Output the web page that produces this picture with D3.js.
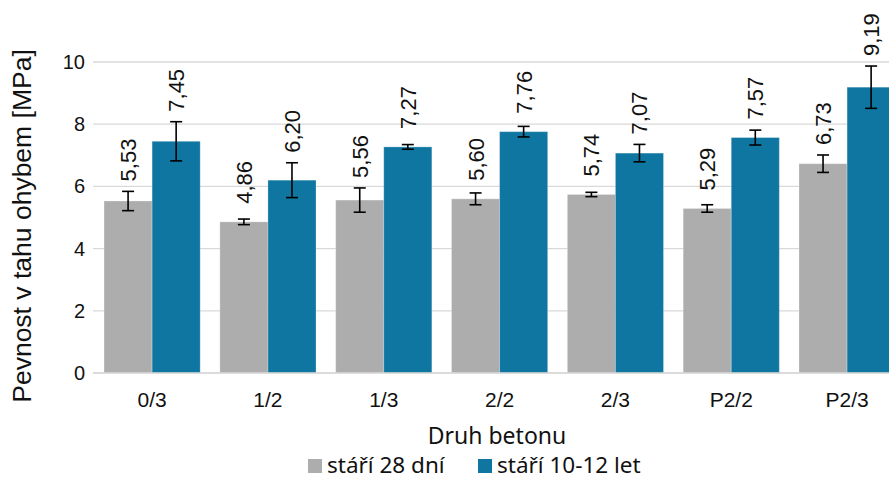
<!DOCTYPE html>
<html><head><meta charset="utf-8">
<script src="https://cdn.jsdelivr.net/npm/d3@7"></script>
<style>
html,body{margin:0;padding:0;background:#fff;}
svg{display:block;}
</style></head>
<body>
<svg id="chart" width="889" height="480"></svg>
<script>
const categories = ["0/3","1/2","1/3","2/2","2/3","P2/2","P2/3"];
const seriesNames = ["stáří 28 dní","stáří 10-12 let"];
const values28 = [5.53,4.86,5.56,5.60,5.74,5.29,6.73];
const values10 = [7.45,6.20,7.27,7.76,7.07,7.57,9.19];
const err28 = [0.31,0.09,0.39,0.19,0.07,0.12,0.28];
const err10 = [0.63,0.56,0.075,0.17,0.28,0.24,0.68];
const yTicks = [0,2,4,6,8,10];
const colors = ["#adadad","#0e76a0"];

const svg = d3.select("#chart");
const W = 889, H = 480;
const FONT = "Liberation Sans, Arial, sans-serif";
const FONT2 = "Noto Sans, sans-serif";
const y = d3.scaleLinear().domain([0,10]).range([373,62]);
const x = d3.scaleBand().domain(categories).range([94.2,905]).paddingInner(0.17).paddingOuter(0.085);
const xs = d3.scaleBand().domain([0,1]).range([0,x.bandwidth()]).padding(0);

// gridlines
svg.append("g").selectAll("line").data(yTicks).join("line")
  .attr("x1",93).attr("x2",W).attr("y1",d=>y(d)).attr("y2",d=>y(d))
  .attr("stroke","#d9d9d9").attr("stroke-width",1.3);

// y tick labels
const yAxis = d3.axisLeft(y).tickValues(yTicks).tickSize(0).tickPadding(0).tickFormat(d3.format("d"));
const ga = svg.append("g").attr("transform","translate(85,0)").call(yAxis);
ga.select(".domain").remove();
ga.selectAll("text").attr("font-family",FONT).attr("font-size",20).attr("fill","#111");

const rows = categories.map((c,i)=>({c, v:[values28[i],values10[i]], e:[err28[i],err10[i]]}));
const flat = [];
rows.forEach(r=>r.v.forEach((v,s)=>flat.push({c:r.c,s,v,e:r.e[s]})));

// bars
svg.append("g").selectAll("rect").data(flat).join("rect")
  .attr("x",d=>x(d.c)+xs(d.s)).attr("width",xs.bandwidth())
  .attr("y",d=>y(d.v)).attr("height",d=>y(0)-y(d.v))
  .attr("fill",d=>colors[d.s])
  .attr("stroke","#ffffff").attr("stroke-opacity",0.25).attr("stroke-width",1);

// baseline
svg.append("line").attr("x1",93).attr("x2",W).attr("y1",y(0)).attr("y2",y(0))
  .attr("stroke","#d9d9d9").attr("stroke-width",1.3);

// error bars
const cx = d=>x(d.c)+xs(d.s)+xs.bandwidth()/2;
const eg = svg.append("g").attr("stroke","#000").attr("stroke-width",1.6);
eg.selectAll(".v").data(flat).join("line").attr("class","v")
  .attr("x1",cx).attr("x2",cx).attr("y1",d=>y(d.v+d.e)).attr("y2",d=>y(d.v-d.e));
eg.selectAll(".t").data(flat).join("line").attr("class","t")
  .attr("x1",d=>cx(d)-6).attr("x2",d=>cx(d)+6).attr("y1",d=>y(d.v+d.e)).attr("y2",d=>y(d.v+d.e));
eg.selectAll(".b").data(flat).join("line").attr("class","b")
  .attr("x1",d=>cx(d)-6).attr("x2",d=>cx(d)+6).attr("y1",d=>y(d.v-d.e)).attr("y2",d=>y(d.v-d.e));

// data labels
const fmt = v=>d3.format(".2f")(v).replace(".",",");
svg.append("g").selectAll("text").data(flat).join("text")
  .attr("transform",d=>{
    const yy = Math.min(y(d.v)-18, y(d.v+d.e)-10);
    return `translate(${cx(d)+8},${yy}) rotate(-90)`;
  })
  .attr("text-anchor","start")
  .attr("font-family",FONT).attr("font-size",22).attr("fill","#111")
  .text(d=>fmt(d.v));

// category labels
svg.append("g").selectAll("text").data(categories).join("text")
  .attr("x",d=>x(d)+x.bandwidth()/2).attr("y",407)
  .attr("text-anchor","middle")
  .attr("font-family",FONT).attr("font-size",21).attr("fill","#111")
  .text(d=>d);

// x title
svg.append("text").attr("x",497).attr("y",444).attr("text-anchor","middle")
  .attr("font-family",FONT2).attr("font-size",23).attr("fill","#111")
  .text("Druh betonu");

// y title
svg.append("text").attr("transform","translate(31,226) rotate(-90)").attr("text-anchor","middle")
  .attr("font-family",FONT).attr("font-size",26.5).attr("fill","#111")
  .text("Pevnost v tahu ohybem [MPa]");

// legend
const legX = [308,478];
const lg = svg.append("g");
seriesNames.forEach((n,i)=>{
  lg.append("rect").attr("x",legX[i]).attr("y",459).attr("width",14).attr("height",14).attr("fill",colors[i]);
  lg.append("text").attr("x",legX[i]+19).attr("y",472.5)
    .attr("font-family",FONT2).attr("font-size",22.5).attr("fill","#111").text(n);
});
</script>
</body></html>
